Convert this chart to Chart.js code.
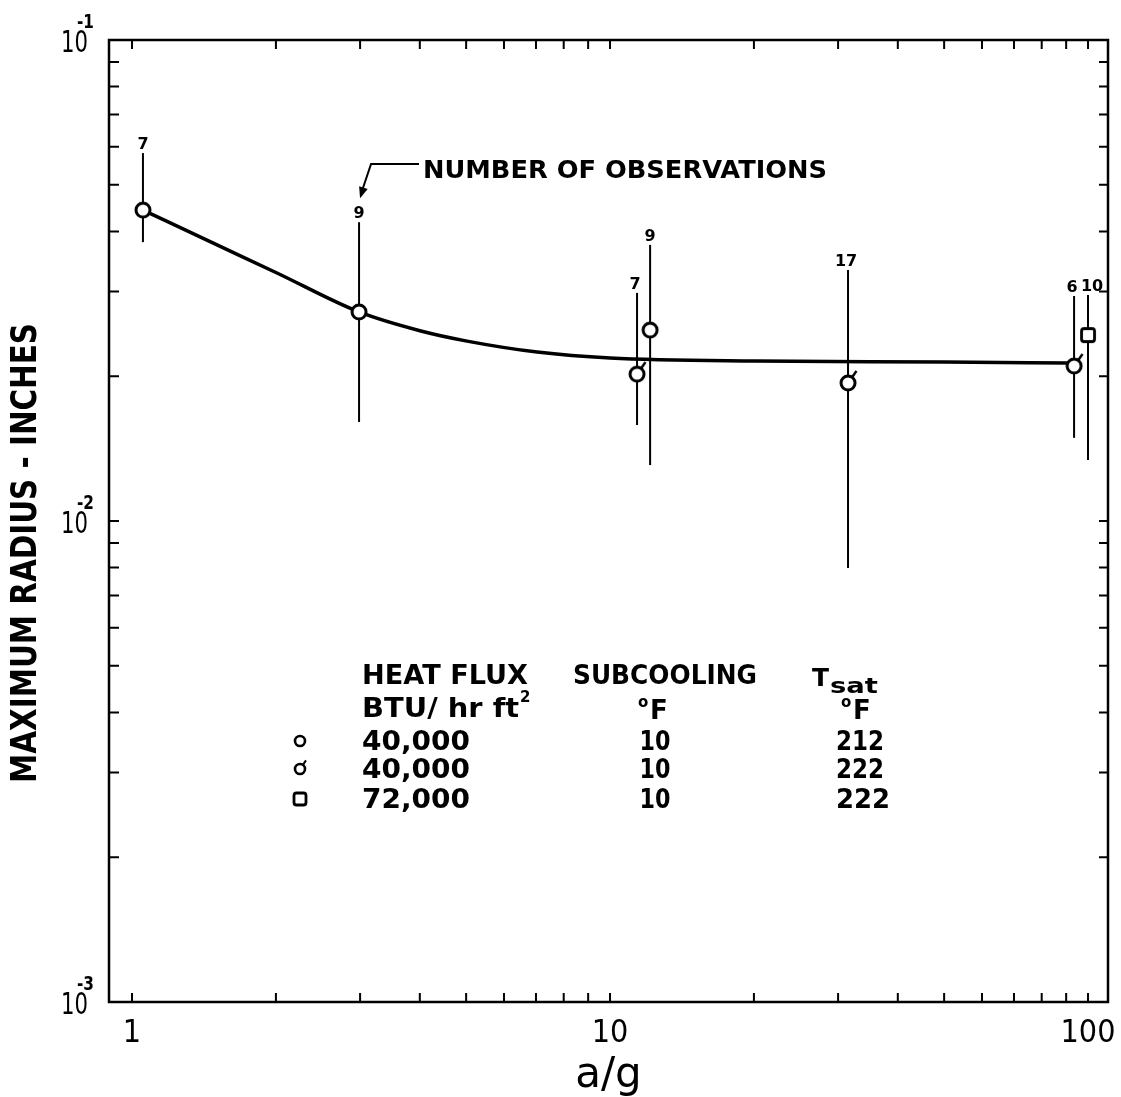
<!DOCTYPE html>
<html>
<head>
<meta charset="utf-8">
<title>Maximum bubble radius vs a/g</title>
<script src="https://cdn.jsdelivr.net/npm/chart.js@4.4.1/dist/chart.umd.min.js"></script>
<style>
  html, body { margin: 0; padding: 0; background: #fff; }
  #wrap { width: 1121px; height: 1097px; position: relative; }
</style>
</head>
<body>
<div id="wrap"><canvas id="chart"></canvas></div>
<script>
// ---- data: a/g (x) and maximum radius in inches (y) ----
// 40,000 BTU/hr ft2, 10 F subcooling, Tsat 212 F  (open circles)
const circleX  = [1.054, 2.985, 12.13];
const circleY  = [0.0443, 0.0272, 0.02494];
const circleHi = [0.0582, 0.0418, 0.0375];
const circleLo = [0.0380, 0.01606, 0.01307];
const circleN  = [7, 9, 9];

// 40,000 BTU/hr ft2, 10 F subcooling, Tsat 222 F  (flagged circles)
const flagX  = [11.39, 31.47, 93.5];
const flagY  = [0.0202, 0.01936, 0.0210];
const flagHi = [0.0298, 0.03325, 0.02936];
const flagLo = [0.01583, 0.00799, 0.01489];
const flagN  = [7, 17, 6];

// 72,000 BTU/hr ft2, 10 F subcooling, Tsat 222 F  (squares)
const squareX  = [100];
const squareY  = [0.02435];
const squareHi = [0.02951];
const squareLo = [0.01339];
const squareN  = [10];

// faired curve through the data
const curveX = [1.054, 1.506, 2.01, 2.985, 4.02, 5.02, 7.04, 10, 20.1, 50.1, 90.8];
const curveY = [0.0443, 0.0375, 0.03278, 0.0272, 0.02483, 0.02366, 0.02245, 0.02182, 0.0215, 0.02141, 0.0213];

// axis labelling
const xMajorTicks = [1, 10, 100];
const xTickLabels = ['1', '10', '100'];
const yMajorTicks = [0.1, 0.01, 0.001];
const yTickExponents = ['-1', '-2', '-3'];

// legend table
const legendHeader1 = ['HEAT FLUX', 'SUBCOOLING', 'T'];
const legendRows = [
  ['40,000', '10', '212'],
  ['40,000', '10', '222'],
  ['72,000', '10', '222']
];

const INK = '#000';
const NARROW = '"Liberation Sans Narrow", "DejaVu Sans Condensed", sans-serif';
const SANS = '"DejaVu Sans", sans-serif';

// ---- marker glyphs ----
function markerCanvas(kind, r, lw) {
  const size = 44;
  const c = document.createElement('canvas');
  c.width = size; c.height = size;
  const g = c.getContext('2d');
  const m = size / 2;
  g.strokeStyle = INK; g.fillStyle = '#fff'; g.lineWidth = lw;
  if (kind === 'square') {
    const s = r * 2, k = 2.5, x0 = m - r, y0 = m - r;
    g.beginPath();
    g.moveTo(x0 + k, y0);
    g.arcTo(x0 + s, y0, x0 + s, y0 + s, k);
    g.arcTo(x0 + s, y0 + s, x0, y0 + s, k);
    g.arcTo(x0, y0 + s, x0, y0, k);
    g.arcTo(x0, y0, x0 + s, y0, k);
    g.closePath();
    g.fill(); g.stroke();
  } else {
    g.beginPath(); g.arc(m, m, r, 0, Math.PI * 2); g.fill(); g.stroke();
    if (kind === 'flag') {
      const a = -55 * Math.PI / 180;
      g.lineWidth = Math.max(2, lw - 0.6);
      g.beginPath();
      g.moveTo(m + r * Math.cos(a), m + r * Math.sin(a));
      g.lineTo(m + (r + r * 1.1) * Math.cos(a), m + (r + r * 1.1) * Math.sin(a));
      g.stroke();
    }
  }
  return c;
}
const circleImg = markerCanvas('circle', 7, 3);
const flagImg = markerCanvas('flag', 7, 3);
const squareImg = markerCanvas('square', 6.5, 2.8);
const circleKey = markerCanvas('circle', 5, 2.6);
const flagKey = markerCanvas('flag', 5, 2.6);
const squareKey = markerCanvas('square', 6, 2.8);

// count labels for neighbouring bands are nudged apart (dx in px)
const groups = [
  { xs: circleX, ys: circleY, hi: circleHi, lo: circleLo, n: circleN, dx: 0 },
  { xs: flagX, ys: flagY, hi: flagHi, lo: flagLo, n: flagN, dx: -2 },
  { xs: squareX, ys: squareY, hi: squareHi, lo: squareLo, n: squareN, dx: 4 }
];

function pts(xs, ys) { return xs.map((x, i) => ({ x: x, y: ys[i] })); }

// text squeezed/stretched to a given width
function fitText(ctx, text, x, y, width, align) {
  const w = ctx.measureText(text).width;
  const s = width / w;
  ctx.save();
  ctx.translate(x, y);
  ctx.scale(s, 1);
  ctx.textAlign = align || 'left';
  ctx.fillText(text, 0, 0);
  ctx.restore();
}

function decadeTicks(lo, hi) {
  const out = [];
  for (let d = lo; d < hi * 0.999; d *= 10) {
    for (let m = 1; m <= 9; m++) out.push(m * d);
  }
  out.push(hi);
  return out;
}

const inkPlugin = {
  id: 'ink',
  beforeDatasetsDraw(chart) {
    const { ctx, scales: { x, y } } = chart;
    ctx.save();
    ctx.strokeStyle = INK;
    ctx.lineWidth = 2;
    ctx.lineCap = 'butt';
    groups.forEach(g => g.xs.forEach((xv, i) => {
      const px = x.getPixelForValue(xv);
      ctx.beginPath();
      ctx.moveTo(px, y.getPixelForValue(g.hi[i]));
      ctx.lineTo(px, y.getPixelForValue(g.lo[i]));
      ctx.stroke();
    }));
    ctx.restore();
  },
  afterDraw(chart) {
    const { ctx, chartArea: a, scales: { x, y } } = chart;
    ctx.save();
    ctx.strokeStyle = INK;
    ctx.fillStyle = INK;

    // frame
    ctx.lineWidth = 2.5;
    ctx.strokeRect(a.left, a.top, a.right - a.left, a.bottom - a.top);

    // inward tick marks on all four sides
    ctx.lineWidth = 2;
    decadeTicks(1, 100).forEach(v => {
      const px = x.getPixelForValue(v);
      ctx.beginPath();
      ctx.moveTo(px, a.bottom); ctx.lineTo(px, a.bottom - 9);
      ctx.moveTo(px, a.top); ctx.lineTo(px, a.top + 9);
      ctx.stroke();
    });
    decadeTicks(0.001, 0.1).forEach(v => {
      const py = y.getPixelForValue(v);
      ctx.beginPath();
      ctx.moveTo(a.left, py); ctx.lineTo(a.left + 10, py);
      ctx.moveTo(a.right, py); ctx.lineTo(a.right - 9, py);
      ctx.stroke();
    });

    // y tick labels: 10 with a raised exponent
    yMajorTicks.forEach((v, i) => {
      const py = y.getPixelForValue(v);
      ctx.font = '31px ' + SANS;
      ctx.textBaseline = 'alphabetic';
      fitText(ctx, '10', 88, py + 11.5, 27, 'right');
      ctx.font = 'bold 19px ' + SANS;
      fitText(ctx, yTickExponents[i], 77, py - 12, 17, 'left');
    });

    // y axis title
    ctx.save();
    ctx.translate(27, 553);
    ctx.rotate(-Math.PI / 2);
    ctx.font = 'bold 36px ' + SANS;
    ctx.textBaseline = 'middle';
    fitText(ctx, 'MAXIMUM RADIUS - INCHES', 0, 0, 460, 'center');
    ctx.restore();

    // number of observations above each scatter band
    ctx.font = 'bold 16px ' + SANS;
    ctx.textBaseline = 'alphabetic';
    ctx.textAlign = 'center';
    let arrowTarget = null;
    groups.forEach((g, gi) => g.xs.forEach((xv, i) => {
      const px = x.getPixelForValue(xv);
      const top = y.getPixelForValue(g.hi[i]);
      ctx.fillText(String(g.n[i]), px + g.dx, top - 4);
      if (gi === 0 && i === 1) arrowTarget = { x: px + 1, y: top - 4 - 12 - 8 };
    }));

    // annotation with leader arrow
    ctx.font = 'bold 24px ' + SANS;
    ctx.textBaseline = 'alphabetic';
    fitText(ctx, 'NUMBER OF OBSERVATIONS', 423, 178, 404, 'left');
    if (arrowTarget) {
      const cx = arrowTarget.x + 11, cy = 164;
      ctx.lineWidth = 2;
      ctx.beginPath();
      ctx.moveTo(419, cy); ctx.lineTo(cx, cy); ctx.lineTo(arrowTarget.x + 1.5, arrowTarget.y - 6);
      ctx.stroke();
      const dx = arrowTarget.x - cx, dy = arrowTarget.y - cy;
      const L = Math.hypot(dx, dy), ux = dx / L, uy = dy / L;
      const hl = 11, hw = 4.5;
      ctx.beginPath();
      ctx.moveTo(arrowTarget.x, arrowTarget.y);
      ctx.lineTo(arrowTarget.x - ux * hl - uy * hw, arrowTarget.y - uy * hl + ux * hw);
      ctx.lineTo(arrowTarget.x - ux * hl + uy * hw, arrowTarget.y - uy * hl - ux * hw);
      ctx.closePath();
      ctx.fill();
    }

    // legend table
    const c1 = 362, c2 = 655, c3 = 860;
    ctx.font = 'bold 26px ' + SANS;
    ctx.textBaseline = 'alphabetic';
    fitText(ctx, legendHeader1[0], c1, 684, 166, 'left');
    fitText(ctx, legendHeader1[1], 573, 684, 184, 'left');
    // T sub sat
    ctx.font = 'bold 25px ' + SANS;
    fitText(ctx, legendHeader1[2], 812, 686, 17, 'left');
    ctx.font = 'bold 21px ' + SANS;
    fitText(ctx, 'sat', 830, 693, 48, 'left');

    ctx.font = 'bold 26px ' + SANS;
    fitText(ctx, 'BTU/ hr ft', c1, 717, 157, 'left');
    ctx.font = 'bold 15px ' + SANS;
    ctx.textAlign = 'left';
    ctx.fillText('2', 520, 702);
    // degree F units
    [c2, c3 - 2].forEach(cx => {
      ctx.font = 'bold 15px ' + SANS;
      ctx.textAlign = 'left';
      ctx.fillText('o', cx - 17, 707);
      ctx.font = 'bold 26px ' + SANS;
      ctx.fillText('F', cx - 5, 719);
    });

    const rowBase = [750, 778, 808];
    const keys = [circleKey, flagKey, squareKey];
    ctx.font = 'bold 26px ' + SANS;
    legendRows.forEach((r, i) => {
      const b = rowBase[i];
      ctx.drawImage(keys[i], 300 - keys[i].width / 2, b - 9 - keys[i].height / 2);
      fitText(ctx, r[0], c1, b, 108, 'left');
      fitText(ctx, r[1], c2, b, 31, 'center');
      fitText(ctx, r[2], c3 + (i === 2 ? 3 : 0), b, i === 2 ? 54 : 48, 'center');
    });

    ctx.restore();
  }
};

const chart = new Chart(document.getElementById('chart'), {
  type: 'scatter',
  data: {
    datasets: [
      {
        type: 'line',
        label: 'faired curve',
        data: pts(curveX, curveY),
        borderColor: INK,
        borderWidth: 3.5,
        pointRadius: 0,
        fill: false,
        cubicInterpolationMode: 'monotone',
        order: 10
      },
      {
        label: '40,000 BTU/hr ft2, 10 F, 212 F',
        data: pts(circleX, circleY),
        pointStyle: circleImg,
        pointRadius: 8,
        order: 1
      },
      {
        label: '40,000 BTU/hr ft2, 10 F, 222 F',
        data: pts(flagX, flagY),
        pointStyle: flagImg,
        pointRadius: 8,
        order: 1
      },
      {
        label: '72,000 BTU/hr ft2, 10 F, 222 F',
        data: pts(squareX, squareY),
        pointStyle: squareImg,
        pointRadius: 8,
        order: 0
      }
    ]
  },
  options: {
    responsive: true,
    maintainAspectRatio: false,
    animation: false,
    events: [],
    layout: { padding: { left: 0, right: 13, top: 40, bottom: 0 } },
    plugins: { legend: { display: false }, tooltip: { enabled: false } },
    scales: {
      x: {
        type: 'logarithmic',
        position: 'bottom',
        min: 0.895,
        max: 110.1,
        afterBuildTicks: s => { s.ticks = xMajorTicks.map(v => ({ value: v })); },
        afterFit: s => { s.height = 95; s.paddingLeft = 0; s.paddingRight = 0; },
        grid: { display: false, drawTicks: false },
        border: { display: false },
        ticks: {
          callback: (v, i) => xTickLabels[i],
          font: { family: NARROW, size: 32 },
          color: INK,
          padding: 12,
          maxRotation: 0,
          autoSkip: false
        },
        title: {
          display: true,
          text: 'a/g',
          color: INK,
          font: { family: SANS, size: 42 },
          padding: { top: 0, bottom: -4 }
        }
      },
      y: {
        type: 'logarithmic',
        position: 'left',
        min: 0.001,
        max: 0.1,
        afterFit: s => { s.width = 109; },
        grid: { display: false, drawTicks: false },
        border: { display: false },
        ticks: { display: false }
      }
    }
  },
  plugins: [inkPlugin]
});
</script>
</body>
</html>
